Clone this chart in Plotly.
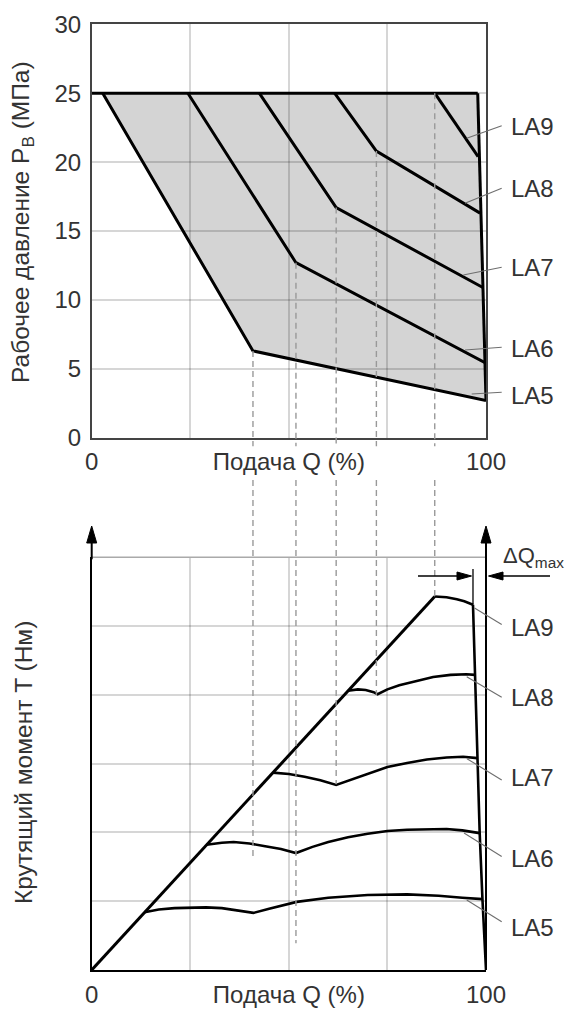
import plotly.graph_objects as go

# ---------------- data: upper chart (pressure vs flow) ----------------
max_line_q = [0.0, 97.9]
max_line_p = [25.0, 25.0]
bound_q = [97.9, 100.0]
bound_p = [25.0, 2.7]

la5_top_q = [2.8, 40.9, 100.0]
la5_top_p = [25.0, 6.3, 2.7]
la6_top_q = [24.4, 51.8, 100.0]
la6_top_p = [25.0, 12.7, 5.4]
la7_top_q = [42.5, 62.0, 99.2]
la7_top_p = [25.0, 16.7, 10.9]
la8_top_q = [61.6, 72.2, 98.5]
la8_top_p = [25.0, 20.8, 16.3]
la9_top_q = [87.0, 98.0]
la9_top_p = [25.0, 20.4]

# ---------------- data: lower chart (torque vs flow) ----------------
diag_q = [0.0, 87.0]
diag_t = [0.0, 5.43]
la9_bot_q = [87.0, 90.0, 92.6, 94.5, 96.7]
la9_bot_t = [5.43, 5.42, 5.39, 5.36, 5.31]
la8_bot_q = [65.0, 67.5, 69.5, 71.5, 72.5, 75.0, 78.0, 82.0, 86.6, 91.0, 95.0, 97.2]
la8_bot_t = [4.06, 4.08, 4.07, 4.04, 4.01, 4.08, 4.14, 4.20, 4.26, 4.29, 4.30, 4.29]
la7_bot_q = [45.9, 50.0, 54.0, 58.0, 62.0, 66.0, 70.0, 75.0, 80.0, 85.0, 90.0, 94.2, 97.8]
la7_bot_t = [2.87, 2.85, 2.81, 2.76, 2.69, 2.77, 2.86, 2.95, 3.01, 3.06, 3.09, 3.10, 3.08]
la6_bot_q = [29.1, 33.0, 36.0, 40.0, 44.0, 48.0, 51.8, 56.0, 60.0, 65.0, 70.0, 75.0, 80.0, 85.0, 90.0, 94.0, 98.4]
la6_bot_t = [1.82, 1.85, 1.86, 1.84, 1.80, 1.76, 1.70, 1.79, 1.86, 1.93, 1.98, 2.02, 2.04, 2.05, 2.05, 2.03, 1.99]
la5_bot_q = [13.4, 17.0, 21.0, 25.0, 29.0, 33.0, 37.0, 41.0, 45.0, 52.0, 60.0, 70.0, 80.0, 88.0, 94.0, 99.1]
la5_bot_t = [0.84, 0.88, 0.90, 0.91, 0.91, 0.90, 0.87, 0.83, 0.89, 0.99, 1.05, 1.09, 1.10, 1.08, 1.05, 1.03]
drop_q = [96.7, 97.2, 97.8, 98.4, 99.1, 100.0]
drop_t = [5.31, 4.29, 3.08, 1.99, 1.03, 0.0]

# dashed guide lines: flow at the knee points, and where they stop in the lower chart
dash_q = [la5_top_q[1], la6_top_q[1], la7_top_q[1], la8_top_q[1], la9_top_q[0]]
dash_p_start = [la5_top_p[1], la6_top_p[1], la7_top_p[1], la8_top_p[1], la9_top_p[0]]
dash_t_end = [1.60, 0.39, 2.70, 4.00, 5.42]

labels = ["LA9", "LA8", "LA7", "LA6", "LA5"]
x_ticks = [0, 50, 100]
x_tick_text = ["0", "Подача Q (%)", "100"]
x_grid = [25, 75]
p_ticks = [0, 5, 10, 15, 20, 25, 30]

# ---------------- layout geometry (page pixels) ----------------
W, H = 575, 1010
OFF = 8  # default page body margin
X0, X1 = 91.7, 486.0
YT_BOT, YT_TOP = 437.7, 24.3
YB_BOT, YB_TOP = 970.0, 557.3
FONT = "Liberation Sans, Arial, sans-serif"
TXT = "#333333"
GRID = "rgba(0,0,0,0.16)"


def px(x):
    return (x - OFF) / W


def py(y):
    return 1 - (y - OFF) / H


fig = go.Figure()

def add_line(q, v, xa, ya, width):
    fig.add_trace(go.Scatter(x=q, y=v, xaxis=xa, yaxis=ya, mode="lines",
                             line=dict(color="black", width=width),
                             hoverinfo="skip", showlegend=False, cliponaxis=False))

# upper chart lines
for q, p in [(max_line_q, max_line_p), (bound_q, bound_p), (la5_top_q, la5_top_p),
             (la6_top_q, la6_top_p), (la7_top_q, la7_top_p), (la8_top_q, la8_top_p),
             (la9_top_q, la9_top_p)]:
    add_line(q, p, "x", "y", 3)

# lower chart lines
add_line(diag_q, diag_t, "x2", "y2", 3)
for q, t in [(la9_bot_q, la9_bot_t), (la8_bot_q, la8_bot_t), (la7_bot_q, la7_bot_t),
             (la6_bot_q, la6_bot_t), (la5_bot_q, la5_bot_t)]:
    add_line(q, t, "x2", "y2", 2.6)
add_line(drop_q, drop_t, "x2", "y2", 2.6)

shapes = []
# grey operating region (below gridlines)
poly = list(zip(la5_top_q, la5_top_p)) + list(zip(bound_q[::-1], bound_p[::-1]))
path = "M " + " L ".join(f"{a},{b}" for a, b in poly) + " Z"
shapes.append(dict(type="path", path=path, xref="x", yref="y", layer="below",
                   fillcolor="#d4d4d4", line=dict(width=0)))

# dashed guide lines
for q, p0, t1 in zip(dash_q, dash_p_start, dash_t_end):
    shapes.append(dict(type="line", xref="x", yref="y domain", x0=q, x1=q,
                       y0=p0 / 30.0, y1=-8.5 / (YT_BOT - YT_TOP),
                       line=dict(color="#999999", width=1.4, dash="6px,4px")))
    shapes.append(dict(type="line", xref="x2", yref="y2 domain", x0=q, x1=q,
                       y0=(YB_BOT - 480) / (YB_BOT - YB_TOP), y1=t1 / 6.0,
                       line=dict(color="#999999", width=1.4, dash="6px,4px")))

# lower chart: top grey line, right axis line, axis extensions
shapes.append(dict(type="line", xref="x2 domain", yref="y2 domain", x0=0, x1=1, y0=1, y1=1,
                   line=dict(color="#aaaaaa", width=1.6)))
shapes.append(dict(type="line", xref="paper", yref="paper", x0=px(X1), x1=px(X1),
                   y0=py(YB_BOT), y1=py(538), line=dict(color="black", width=2)))
shapes.append(dict(type="line", xref="paper", yref="paper", x0=px(X0), x1=px(X0),
                   y0=py(YB_TOP + 2), y1=py(538), line=dict(color="black", width=2)))


def tri(tip, base1, base2):
    pts = [tip, base1, base2]
    return dict(type="path", xref="paper", yref="paper",
                path="M " + " L ".join(f"{px(a)},{py(b)}" for a, b in pts) + " Z",
                fillcolor="black", line=dict(color="black", width=1))

for xa in (X0, X1):
    shapes.append(tri((xa, 526), (xa - 5, 543), (xa + 5, 543)))

# delta Q max marker
la9_end_q = la9_bot_q[-1]
shapes.append(dict(type="line", xref="x2", yref="y2", x0=la9_end_q, x1=la9_end_q,
                   y0=la9_bot_t[-1], y1=(YB_BOT - 569) / (YB_BOT - YB_TOP) * 6,
                   line=dict(color="black", width=1.3)))
shapes.append(dict(type="line", xref="paper", yref="paper", x0=px(418), x1=px(460),
                   y0=py(576), y1=py(576), line=dict(color="black", width=1.6)))
shapes.append(tri((471.5, 576), (457, 572), (457, 580)))
shapes.append(dict(type="line", xref="paper", yref="paper", x0=px(550), x1=px(500),
                   y0=py(576), y1=py(576), line=dict(color="black", width=1.6)))
shapes.append(tri((488.5, 576), (503, 572), (503, 580)))

# leader lines
top_leaders = [((466.7, 138.3), (501.7, 125.7)), ((465, 203.3), (501.7, 188.3)),
               ((463.3, 275), (501.7, 267.3)), ((465, 350), (501.7, 347.3)),
               ((471.7, 394), (501.7, 392.3))]
bot_leaders = [((474.5, 608), (501.7, 624.5)), ((466.7, 676.7), (501.7, 697.3)),
               ((467, 758.7), (501.7, 780)), ((464, 833), (501.7, 856.5)),
               ((466.7, 900), (501.7, 921.7))]
for (a, b) in top_leaders + bot_leaders:
    shapes.append(dict(type="line", xref="paper", yref="paper", x0=px(a[0]), y0=py(a[1]),
                       x1=px(b[0]), y1=py(b[1]), line=dict(color="#6e6e6e", width=1.1)))

annotations = []
top_label_y = [126.7, 188.3, 267.3, 348.3, 395.0]
bot_label_y = [627.0, 697.0, 777.0, 858.3, 927.3]
for lab, yt, yb in zip(labels, top_label_y, bot_label_y):
    for yy in (yt, yb):
        annotations.append(dict(text=lab, xref="paper", yref="paper", x=px(509), y=py(yy),
                                xanchor="left", yanchor="middle", showarrow=False,
                                font=dict(family=FONT, size=24, color=TXT)))

annotations.append(dict(text="Рабочее давление P<sub>B</sub> (МПа)", textangle=-90,
                        xref="paper", yref="paper", x=px(23), y=py(222), showarrow=False,
                        xanchor="center", yanchor="middle",
                        font=dict(family=FONT, size=24.5, color=TXT)))
annotations.append(dict(text="Крутящий момент T (Нм)", textangle=-90,
                        xref="paper", yref="paper", x=px(23), y=py(763), showarrow=False,
                        xanchor="center", yanchor="middle",
                        font=dict(family=FONT, size=24.5, color=TXT)))
annotations.append(dict(text="ΔQ<sub>max</sub>", xref="paper", yref="paper",
                        x=px(501), y=py(557), xanchor="left", yanchor="middle",
                        showarrow=False, font=dict(family=FONT, size=22, color=TXT)))

tickfont = dict(family=FONT, size=24, color=TXT)
minor_grid = dict(tickmode="array", tickvals=x_grid, showgrid=True, gridcolor=GRID,
                  gridwidth=1.5, ticks="")
fig.update_layout(
    width=W, height=H, margin=dict(l=0, r=0, t=0, b=0),
    paper_bgcolor="white", plot_bgcolor="white", showlegend=False,
    xaxis=dict(domain=[px(X0), px(X1)], range=[0, 100], anchor="y",
               tickmode="array", tickvals=x_ticks, ticktext=x_tick_text, tickfont=tickfont,
               ticks="", ticklabelstandoff=2, minor=minor_grid,
               showgrid=True, gridcolor=GRID, gridwidth=1.5, zeroline=False,
               showline=True, mirror=True, linecolor="#444444", linewidth=1.6,
               automargin=False, fixedrange=True),
    yaxis=dict(domain=[py(YT_BOT), py(YT_TOP)], range=[0, 30], anchor="x",
               tickmode="array", tickvals=p_ticks, tickfont=tickfont,
               ticks="outside", ticklen=4, tickcolor="rgba(0,0,0,0)",
               showgrid=True, gridcolor=GRID, gridwidth=1.5, zeroline=False,
               showline=True, mirror=True, linecolor="#444444", linewidth=1.6,
               automargin=False, fixedrange=True),
    xaxis2=dict(domain=[px(X0), px(X1)], range=[0, 100], anchor="y2",
                tickmode="array", tickvals=x_ticks, ticktext=x_tick_text, tickfont=tickfont,
                ticks="", ticklabelstandoff=2, minor=minor_grid,
                showgrid=True, gridcolor=GRID, gridwidth=1.5, zeroline=False,
                showline=True, mirror=False, linecolor="black", linewidth=2,
                automargin=False, fixedrange=True),
    yaxis2=dict(domain=[py(YB_BOT), py(YB_TOP)], range=[0, 6], anchor="x2",
                tickmode="array", tickvals=[0, 1, 2, 3, 4, 5], showticklabels=False,
                showgrid=True, gridcolor=GRID, gridwidth=1.5, zeroline=False,
                showline=True, mirror=False, linecolor="black", linewidth=2,
                automargin=False, fixedrange=True),
    shapes=shapes, annotations=annotations,
)

fig.write_html("out.html")
